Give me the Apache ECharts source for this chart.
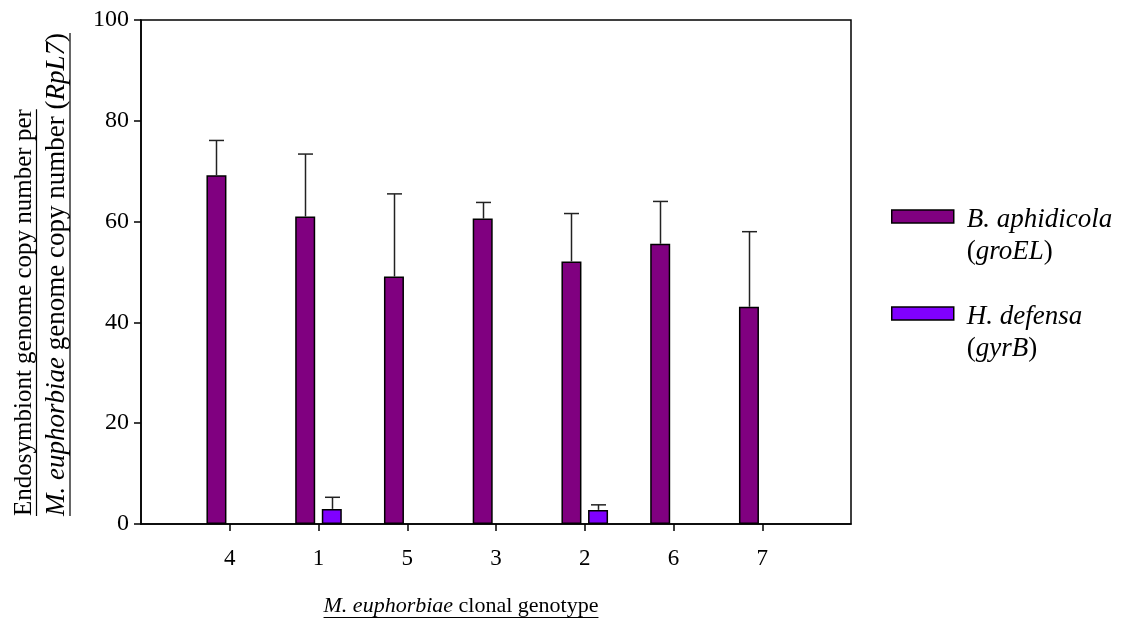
<!DOCTYPE html>
<html><head><meta charset="utf-8">
<script src="https://cdn.jsdelivr.net/npm/echarts@6/dist/echarts.min.js"></script>
<style>html,body{margin:0;padding:0;background:#fff}#c{width:1130px;height:619px}</style>
</head><body><div id="c"></div>
<script>
// ---- data ----
const categories = ['4', '1', '5', '3', '2', '6', '7'];
const aphidicola = [69.2, 61.0, 49.1, 60.6, 52.1, 55.6, 43.1];
const aphidicolaErr = [6.9, 12.4, 16.4, 3.2, 9.5, 8.4, 14.9];
const defensa = [null, 3.0, null, null, 2.8, null, null];
const defensaErr = [null, 2.3, null, null, 1.0, null, null];
const yTicks = [0, 20, 40, 60, 80, 100];
const seriesNames = ['B. aphidicola (groEL)', 'H. defensa (gyrB)'];
const legendLines = [['B. aphidicola', 'groEL'], ['H. defensa', 'gyrB']];
const xTitle = ['M. euphorbiae', ' clonal genotype'];
const yTitle1 = 'Endosymbiont genome copy number per';
const yTitle2 = ['M. euphorbiae', ' genome copy number (', 'RpL7', ')'];

// ---- style ----
const FONT = '"Liberation Serif", "Times New Roman", serif';
const FS_TICK = 24, FS_X = 23, FS_XT = 22, FS_LEG = 27, FS_Y1 = 25, FS_Y2 = 27;
const C1 = '#800080', C2 = '#8000ff';

const ctx = document.createElement('canvas').getContext('2d');
function tw(t, italic, size) { ctx.font = (italic ? 'italic ' : '') + size + 'px ' + FONT; return ctx.measureText(t).width; }

const xCats = [''].concat(categories, ['']);
const pad = arr => [null].concat(arr, [null]);
function errData(vals, errs) {
  const out = [];
  vals.forEach((v, i) => { if (v != null) out.push([i + 1, v, v + errs[i]]); });
  return out;
}
function errRender(offset) {
  return function (params, api) {
    const x = api.value(0);
    const lo = api.coord([x, api.value(1)]);
    const hi = api.coord([x, api.value(2)]);
    const cx = Math.round(lo[0] + offset) + 0.5;
    const cap = 7.5;
    return {
      type: 'group', children: [
        { type: 'line', shape: { x1: cx, y1: lo[1], x2: cx, y2: hi[1] }, style: { stroke: '#222', lineWidth: 1.5 } },
        { type: 'line', shape: { x1: cx - cap, y1: hi[1], x2: cx + cap, y2: hi[1] }, style: { stroke: '#222', lineWidth: 1.5 } }
      ]
    };
  };
}

const chart = echarts.init(document.getElementById('c'), null, { renderer: 'canvas' });

const xw1 = tw(xTitle[0], true, FS_XT), xw2 = tw(xTitle[1], false, FS_XT);
const xTitleW = xw1 + xw2;
const xTitleCx = 461, xTitleY = 606;
const y1w = tw(yTitle1, false, FS_Y1);
const y2w = tw(yTitle2[0], true, FS_Y2) + tw(yTitle2[1], false, FS_Y2) + tw(yTitle2[2], true, FS_Y2) + tw(yTitle2[3], false, FS_Y2);
const yBase = 516;
const yL1 = 24, yL2 = 57;

function rich(size, lh) {
  const i = { fontStyle: 'italic', fontFamily: FONT, fontSize: size, color: '#000' };
  const n = { fontFamily: FONT, fontSize: size, color: '#000' };
  if (lh) { i.lineHeight = lh; n.lineHeight = lh; }
  return { i: i, n: n };
}
const LH = 32;

chart.setOption({
  animation: false,
  backgroundColor: '#fff',
  grid: { left: 141, right: 279, top: 20, bottom: 95, show: true, borderColor: '#000', borderWidth: 1.5, containLabel: false },
  legend: {
    orient: 'vertical', left: 891, top: 165, padding: 0,
    itemWidth: 62, itemHeight: 13, itemGap: -6,
    icon: 'rect',
    data: seriesNames,
    itemStyle: { borderColor: '#000', borderWidth: 1.5 },
    formatter: function (name) {
      const k = seriesNames.indexOf(name);
      return '{i|' + legendLines[k][0] + '}\n{n|(}{i|' + legendLines[k][1] + '}{n|)}';
    },
    textStyle: {
      fontFamily: FONT, fontSize: FS_LEG, color: '#000', lineHeight: LH, padding: [LH + 7, 0, 0, 8],
      rich: rich(FS_LEG, LH)
    }
  },
  xAxis: {
    type: 'category', data: xCats, boundaryGap: false,
    axisLine: { lineStyle: { color: '#000', width: 1.5 } },
    axisTick: { show: true, length: 7, inside: false, interval: function (i) { return i >= 1 && i <= categories.length; }, lineStyle: { color: '#000', width: 1.5 } },
    axisLabel: { interval: 0, fontFamily: FONT, fontSize: FS_X, color: '#000', margin: 23 },
    splitLine: { show: false }
  },
  yAxis: {
    type: 'value', min: yTicks[0], max: yTicks[yTicks.length - 1], interval: yTicks[1] - yTicks[0],
    axisLine: { show: true, lineStyle: { color: '#000', width: 1.5 } },
    axisTick: { show: true, length: 7, inside: false, lineStyle: { color: '#000', width: 1.5 } },
    axisLabel: { fontFamily: FONT, fontSize: FS_TICK, color: '#000', margin: 12 },
    splitLine: { show: false }
  },
  series: [
    { name: seriesNames[0], type: 'bar', data: pad(aphidicola), barWidth: 20, barGap: '33%',
      itemStyle: { color: C1, borderColor: '#000', borderWidth: 1.5 } },
    { name: seriesNames[1], type: 'bar', data: pad(defensa), barWidth: 20, barGap: '33%',
      itemStyle: { color: C2, borderColor: '#000', borderWidth: 1.5 } },
    { type: 'custom', renderItem: errRender(-13.5), data: errData(aphidicola, aphidicolaErr), z: 3, silent: true },
    { type: 'custom', renderItem: errRender(13.5), data: errData(defensa, defensaErr), z: 3, silent: true }
  ],
  graphic: [
    { type: 'text', x: xTitleCx, y: xTitleY, style: { text: '{i|' + xTitle[0] + '}{n|' + xTitle[1] + '}', rich: rich(FS_XT), align: 'center', verticalAlign: 'middle' } },
    { type: 'line', shape: { x1: xTitleCx - xTitleW / 2, y1: xTitleY + 11.5, x2: xTitleCx + xTitleW / 2, y2: xTitleY + 11.5 }, style: { stroke: '#000', lineWidth: 1.2 } },
    { type: 'text', x: yL1, y: yBase, rotation: Math.PI / 2, style: { text: yTitle1, fontFamily: FONT, fontSize: FS_Y1, fill: '#000', align: 'left', verticalAlign: 'middle' } },
    { type: 'line', shape: { x1: yL1 + 12.5, y1: yBase, x2: yL1 + 12.5, y2: yBase - y1w }, style: { stroke: '#000', lineWidth: 1.2 } },
    { type: 'text', x: yL2, y: yBase, rotation: Math.PI / 2, style: { text: '{i|' + yTitle2[0] + '}{n|' + yTitle2[1] + '}{i|' + yTitle2[2] + '}{n|' + yTitle2[3] + '}', rich: rich(FS_Y2), align: 'left', verticalAlign: 'middle' } },
    { type: 'line', shape: { x1: yL2 + 13, y1: yBase, x2: yL2 + 13, y2: yBase - y2w }, style: { stroke: '#000', lineWidth: 1.2 } }
  ]
});
</script>
</body></html>
